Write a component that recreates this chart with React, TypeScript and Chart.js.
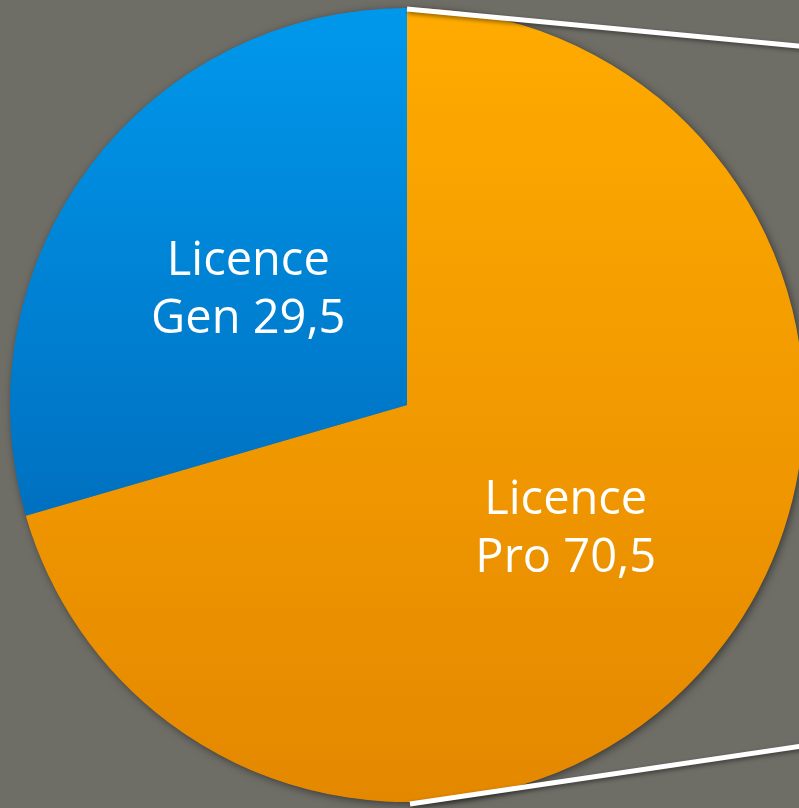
import React, { useEffect, useRef } from "react";
import { Chart, registerables } from "chart.js";

Chart.register(...registerables);

const categories = ["Licence Pro", "Licence Gen"];
const values = [70.5, 29.5];
const labelLines = [["Licence", "Pro 70,5"], ["Licence", "Gen 29,5"]];

const BG = "#6e6d66";

const shadowPlugin = {
  id: "pieShadow",
  beforeDatasetsDraw(chart: any) {
    const ctx = chart.ctx;
    const arc = chart.getDatasetMeta(0).data[0];
    if (!arc) return;
    ctx.save();
    ctx.shadowColor = "rgba(0,0,0,0.5)";
    ctx.shadowBlur = 8;
    ctx.shadowOffsetX = 2;
    ctx.shadowOffsetY = 2;
    ctx.fillStyle = BG;
    ctx.beginPath();
    ctx.arc(arc.x, arc.y, arc.outerRadius - 0.5, 0, Math.PI * 2);
    ctx.fill();
    ctx.restore();
  },
};

const labelPlugin = {
  id: "sliceLabels",
  afterDatasetsDraw(chart: any) {
    const ctx = chart.ctx;
    const meta = chart.getDatasetMeta(0);
    ctx.save();
    ctx.fillStyle = "#ffffff";
    ctx.textAlign = "center";
    ctx.textBaseline = "middle";
    ctx.font = '500 47px "Comic Sans MS", "Open Sans", sans-serif';
    meta.data.forEach((arc: any, i: number) => {
      const p = arc.tooltipPosition();
      const lines = labelLines[i];
      const lh = 58;
      lines.forEach((t: string, j: number) => {
        ctx.fillText(t, p.x, p.y + 5 + (j - (lines.length - 1) / 2) * lh);
      });
    });
    ctx.restore();
  },
};

const connectorPlugin = {
  id: "connectors",
  afterDraw(chart: any) {
    const ctx = chart.ctx;
    const arc = chart.getDatasetMeta(0).data[0];
    const cx = arc.x, cy = arc.y, r = arc.outerRadius;
    ctx.save();
    ctx.strokeStyle = "#ffffff";
    ctx.lineWidth = 5;
    ctx.shadowColor = "rgba(0,0,0,0.45)";
    ctx.shadowBlur = 4;
    ctx.shadowOffsetX = 1;
    ctx.shadowOffsetY = 2;
    const s1 = 0.0944;
    ctx.beginPath();
    ctx.moveTo(cx, cy - r + 1);
    ctx.lineTo(cx + 420, cy - r + 1 + 420 * s1);
    ctx.stroke();
    const s2 = -0.148;
    ctx.beginPath();
    ctx.moveTo(cx + 3, cy + r + 2);
    ctx.lineTo(cx + 3 + 420, cy + r + 2 + 420 * s2);
    ctx.stroke();
    ctx.restore();
  },
};

export default function App() {
  const ref = useRef<HTMLCanvasElement>(null);
  useEffect(() => {
    const canvas = ref.current!;
    const chart = new Chart(canvas, {
      type: "pie",
      data: {
        labels: categories,
        datasets: [
          {
            data: values,
            borderWidth: 0,
            backgroundColor: (c: any) => {
              const ch = c.chart;
              const a = ch.chartArea;
              if (!a) return c.dataIndex === 0 ? "#f5a000" : "#0085d8";
              const g = ch.ctx.createLinearGradient(0, a.top, 0, a.bottom);
              if (c.dataIndex === 0) {
                g.addColorStop(0, "#ffab00");
                g.addColorStop(1, "#e48800");
              } else {
                g.addColorStop(0, "#0098ec");
                g.addColorStop(0.64, "#0070c0");
                g.addColorStop(1, "#0060a8");
              }
              return g;
            },
          },
        ],
      },
      options: {
        animation: false,
        responsive: false,
        layout: { padding: { top: 8, left: 10, right: 10, bottom: 8 } },
        plugins: {
          legend: { display: false },
          tooltip: { enabled: false },
        },
      },
      plugins: [shadowPlugin, labelPlugin, connectorPlugin],
    });
    return () => chart.destroy();
  }, []);
  return (
    <div
      style={{
        position: "fixed",
        left: 0,
        top: 0,
        width: 799,
        height: 808,
        overflow: "hidden",
        background: BG,
      }}
    >
      <canvas ref={ref} width={814} height={810} style={{ display: "block" }} />
    </div>
  );
}
